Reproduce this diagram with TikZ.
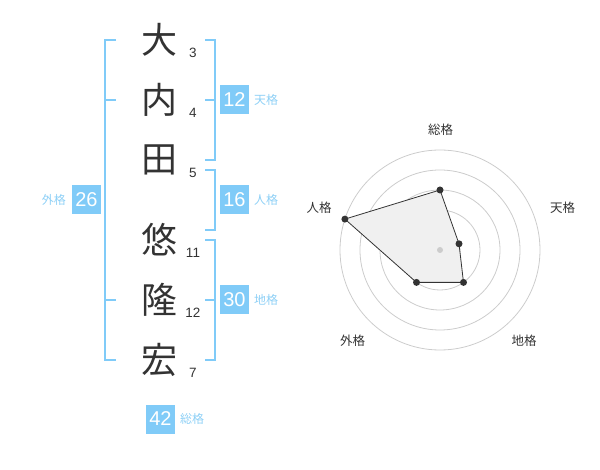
\documentclass[tikz,border=0pt]{standalone}
\usepackage{fontspec}
\setmainfont{Liberation Sans}
\newfontfamily\cjk{Noto Sans CJK JP}
\definecolor{bblue}{HTML}{80CBF8}
\definecolor{lblue}{HTML}{8ED0F6}
\definecolor{kanji}{HTML}{333333}
\definecolor{ring}{HTML}{CCCCCC}
\definecolor{polyfill}{HTML}{F0F0F0}
\tikzset{
  kan/.style={inner sep=0pt, text=kanji, font=\cjk\fontsize{36}{36}\selectfont},
  stroke/.style={inner sep=0pt, text=kanji, font=\fontsize{13.5}{14}\selectfont},
  valbox/.style={fill=bblue, minimum width=29pt, minimum height=29pt, inner sep=0pt, text=white, font=\fontsize{20}{20}\selectfont},
  kaku/.style={inner sep=0pt, text=lblue, font=\cjk\fontsize{12}{12}\selectfont},
  brk/.style={draw=bblue, line width=2pt},
  radlab/.style={inner sep=0pt, text=kanji, font=\cjk\fontsize{12.5}{12.5}\selectfont},
  ringline/.style={draw=ring, line width=0.8pt},
  dot/.style={circle, fill=kanji, inner sep=0pt, minimum size=7pt}
}
\begin{document}
\begin{tikzpicture}[x=1pt,y=-1pt]
\useasboundingbox (0,0) rectangle (600,470);
% characters
\node[kan] (c1) at (159,40) {大};
\node[kan] (c2) at (159,100) {内};
\node[kan] (c3) at (159,160) {田};
\node[kan] (c4) at (159,240) {悠};
\node[kan] (c5) at (159,300) {隆};
\node[kan] (c6) at (159,360) {宏};
\node[stroke] (s1) at (193,52.5) {3};
\node[stroke] (s2) at (193,112.5) {4};
\node[stroke] (s3) at (193,172.5) {5};
\node[stroke] (s4) at (193,252.5) {11};
\node[stroke] (s5) at (193,312.5) {12};
\node[stroke] (s6) at (193,372.5) {7};
% brackets
\draw[brk] (116,40) -- (105,40) -- (105,360) -- (116,360);
\draw[brk] (105,100) -- (116,100);
\draw[brk] (105,300) -- (116,300);
\draw[brk] (205,40) -- (215,40) -- (215,160) -- (205,160);
\draw[brk] (215,100) -- (205,100);
\draw[brk] (205,170) -- (215,170) -- (215,230) -- (205,230);
\draw[brk] (205,240) -- (215,240) -- (215,360) -- (205,360);
\draw[brk] (215,300) -- (205,300);
% value boxes
\node[valbox] (ten) at (234.5,100) {12};
\node[kaku, anchor=west] (tenl) at (254,100) {天格};
\node[valbox] (jin) at (234.5,200) {16};
\node[kaku, anchor=west] (jinl) at (254,200) {人格};
\node[valbox] (chi) at (234.5,300) {30};
\node[kaku, anchor=west] (chil) at (254,300) {地格};
\node[valbox] (gai) at (86.5,200) {26};
\node[kaku, anchor=east] (gail) at (66,200) {外格};
\node[valbox] (sou) at (160.5,419) {42};
\node[kaku, anchor=west] (soul) at (180,419) {総格};
% radar
\coordinate (O) at (440,250);
\foreach \r in {20,40,60,80,100} \draw[ringline] (O) circle (\r);
\coordinate (pS) at (440,190);
\coordinate (pT) at (459.0,243.8);
\coordinate (pC) at (463.5,282.4);
\coordinate (pG) at (416.5,282.4);
\coordinate (pJ) at (344.9,219.1);
\draw[fill=polyfill, draw=kanji, line width=0.8pt] (pS) -- (pT) -- (pC) -- (pG) -- (pJ) -- cycle;
\node[circle, fill=ring, inner sep=0pt, minimum size=6pt] (ctr) at (O) {};
\node[dot] (dS) at (pS) {};
\node[dot] (dT) at (pT) {};
\node[dot] (dC) at (pC) {};
\node[dot] (dG) at (pG) {};
\node[dot] (dJ) at (pJ) {};
\node[radlab] (lS) at (440.5,130) {総格};
\node[radlab] (lT) at (562.5,208) {天格};
\node[radlab] (lJ) at (319,208) {人格};
\node[radlab] (lC) at (524,341) {地格};
\node[radlab] (lG) at (352.5,341) {外格};
\end{tikzpicture}
\end{document}
